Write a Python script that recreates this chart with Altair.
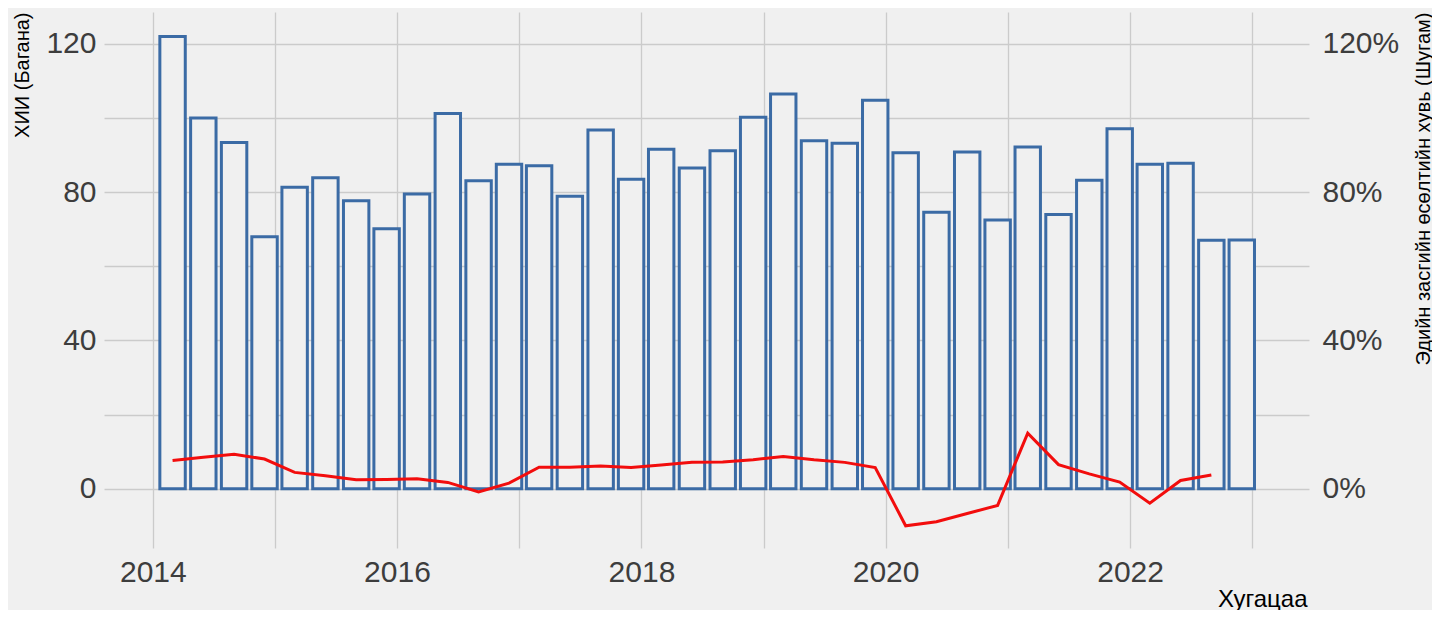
import altair as alt
import pandas as pd
from datetime import date, timedelta

# ---- data ----
quarter_months = [3, 6, 9, 12]
years = list(range(2014, 2023))
bar_values = [122.0, 100.0, 93.4, 68.0, 81.3, 83.9, 77.7, 70.1, 79.5, 101.2, 83.1, 87.5,
              87.1, 78.9, 96.8, 83.5, 91.6, 86.5, 91.2, 100.2, 106.5, 93.9, 93.2, 104.8,
              90.6, 74.6, 90.8, 72.5, 92.2, 74.0, 83.2, 97.1, 87.5, 87.8, 67.0, 67.1]
growth_values = [7.6, 8.5, 9.3, 8.0, 4.4, 3.5, 2.4, 2.5, 2.7, 1.7, -0.9, 1.5,
                 5.8, 5.8, 6.1, 5.7, 6.4, 7.1, 7.2, 7.8, 8.7, 7.8, 7.1, 5.7,
                 -10.0, -8.9, -6.7, -4.5, 15.0, 6.5, 4.0, 1.8, -3.9, 2.2, 3.7]
year_ticks = list(range(2014, 2024))

dates = [date(y, m, 1) for y in years for m in quarter_months]
half = timedelta(days=38)

bars_df = pd.DataFrame({
    "date": [d.isoformat() for d in dates],
    "start": [(d - half).isoformat() for d in dates],
    "end": [(d + half).isoformat() for d in dates],
    "value": bar_values,
})
line_df = pd.DataFrame({
    "date": [d.isoformat() for d in dates[:len(growth_values)]],
    "growth": growth_values,
})

FONT = "Liberation Sans"
GRID = "#cbcbcb"

x_scale = alt.Scale(type="utc", domain=[alt.DateTime(year=2013, month=8, date=8, utc=True),
                                        alt.DateTime(year=2023, month=6, date=20, utc=True)])
y_domain = [-16, 128.6]
y_ticks = [0, 20, 40, 60, 80, 100, 120]

x_axis = alt.Axis(
    values=[alt.DateTime(year=y, month=1, date=1, utc=True) for y in year_ticks],
    labelExpr="utcyear(datum.value) % 2 == 0 ? utcFormat(datum.value, '%Y') : ''",
    grid=True, gridColor=GRID, gridWidth=1.3, domain=False, ticks=False,
    labelFont=FONT, labelFontSize=30, labelColor="#3d3d3d", labelPadding=9,
    labelFlush=False, labelOverlap=False,
    title="Хугацаа", titleFont=FONT, titleFontSize=24, titleFontWeight="normal",
    titleColor="#000000", titleAlign="right", titleBaseline="alphabetic",
    titleX=1203, titleY=58, titleAngle=0,
)

bars = alt.Chart(bars_df).mark_rect(
    fill="#f0f0f0", stroke="#3b6ba5", strokeWidth=3
).encode(
    x=alt.X("start:T", scale=x_scale, axis=x_axis),
    x2="end:T",
    y=alt.Y("value:Q", scale=alt.Scale(domain=y_domain, nice=False, zero=False),
            axis=alt.Axis(
                values=y_ticks, orient="left",
                labelExpr="datum.value % 40 == 0 ? datum.value : ''",
                grid=True, gridColor=GRID, gridWidth=1.3, domain=False, ticks=False,
                labelFont=FONT, labelFontSize=30, labelColor="#3d3d3d", labelPadding=8,
                labelFlush=False, labelOverlap=False,
                title="ХИИ (Багана)", titleFont=FONT, titleFontSize=20,
                titleFontWeight="normal", titleColor="#000000",
                titleAngle=-90, titleAlign="right", titleBaseline="middle",
                titleX=-82, titleY=0)),
    y2=alt.datum(0),
)

line = alt.Chart(line_df).mark_line(color="#f20d0d", strokeWidth=3).encode(
    x=alt.X("date:T", scale=x_scale),
    y=alt.Y("growth:Q", scale=alt.Scale(domain=y_domain, nice=False, zero=False),
            axis=alt.Axis(
                values=y_ticks, orient="right",
                labelExpr="datum.value % 40 == 0 ? datum.value + '%' : ''",
                grid=False, domain=False, ticks=False,
                labelFont=FONT, labelFontSize=30, labelColor="#3d3d3d", labelPadding=13,
                labelFlush=False, labelOverlap=False,
                title="Эдийн засгийн өсөлтийн хувь (Шугам)", titleFont=FONT,
                titleFontSize=20, titleFontWeight="normal", titleColor="#000000",
                titleAngle=-90, titleAlign="right", titleBaseline="middle",
                titleX=114, titleY=0)),
)

chart = alt.layer(bars, line).resolve_scale(y="independent").properties(
    width=1205, height=536,
    autosize=alt.AutoSizeParams(type="none"),
    padding={"left": 96, "top": 4, "right": 123, "bottom": 62},
    background="#f0f0f0",
).configure_view(stroke=None)

chart.save("out.html", embed_options={"renderer": "svg", "actions": False})
